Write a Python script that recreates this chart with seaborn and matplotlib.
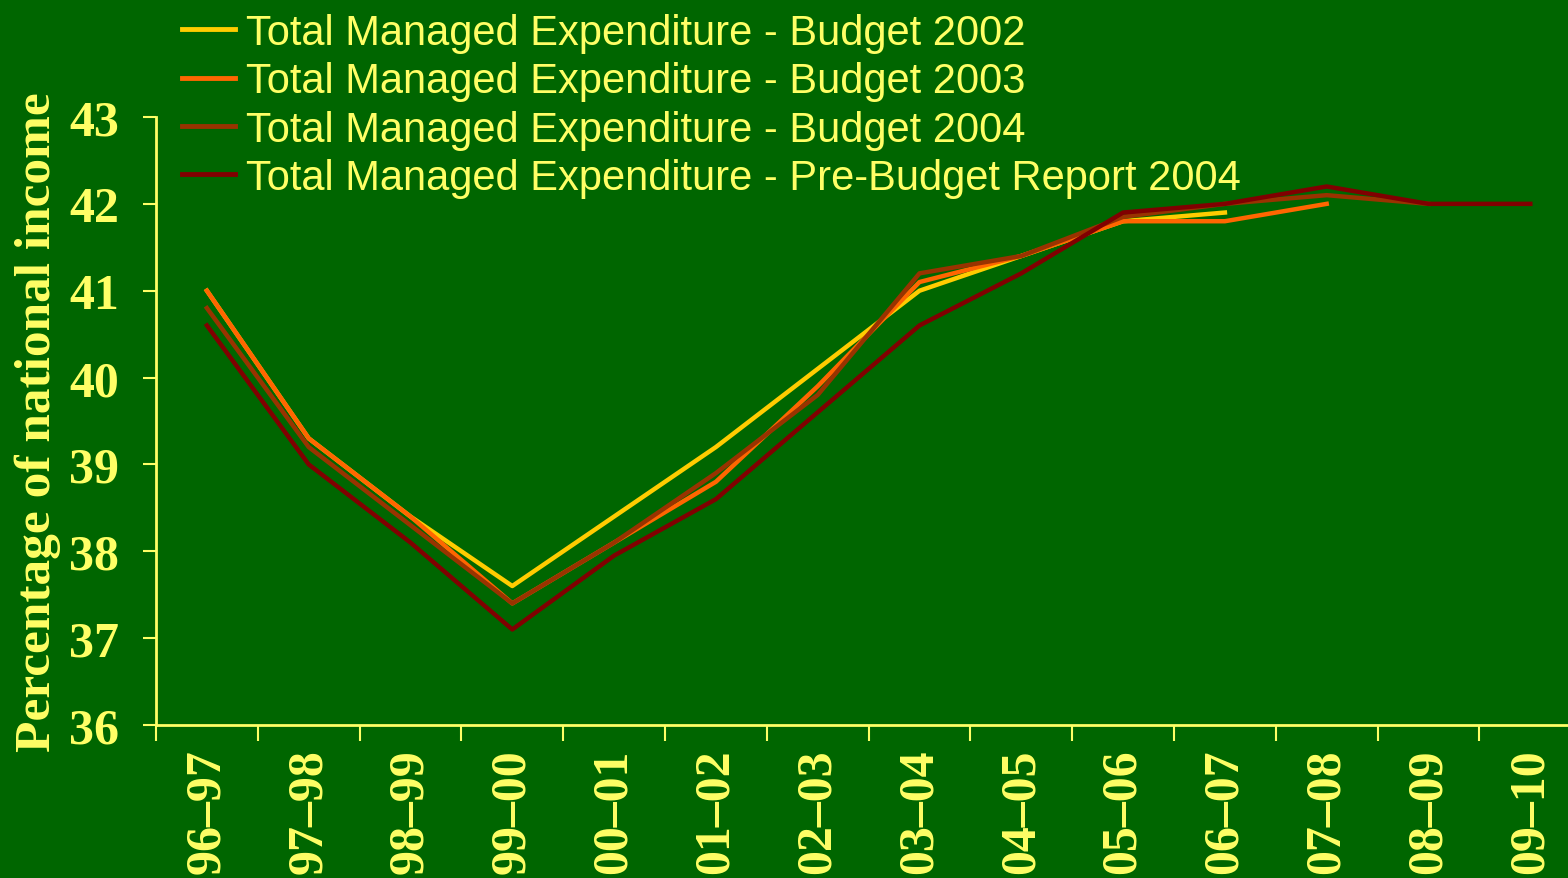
import matplotlib
matplotlib.use("Agg")
import matplotlib.pyplot as plt
import seaborn as sns
import numpy as np

# Data
years = ["96\u201397", "97\u201398", "98\u201399", "99\u201300", "00\u201301", "01\u201302", "02\u201303",
         "03\u201304", "04\u201305", "05\u201306", "06\u201307", "07\u201308", "08\u201309", "09\u201310"]
budget_2002 = [41.0, 39.3, 38.4, 37.6, 38.4, 39.2, 40.1, 41.0, 41.4, 41.8, 41.9]
budget_2003 = [41.0, 39.3, 38.4, 37.4, 38.1, 38.8, 39.9, 41.1, 41.4, 41.8, 41.8, 42.0]
budget_2004 = [40.8, 39.2, 38.3, 37.4, 38.1, 38.9, 39.8, 41.2, 41.4, 41.85, 42.0, 42.1, 42.0]
pbr_2004 = [40.6, 39.0, 38.1, 37.1, 37.95, 38.6, 39.6, 40.6, 41.2, 41.9, 42.0, 42.2, 42.0, 42.0]
series_names = ["Total Managed Expenditure - Budget 2002",
                "Total Managed Expenditure - Budget 2003",
                "Total Managed Expenditure - Budget 2004",
                "Total Managed Expenditure - Pre-Budget Report 2004"]
series_values = [budget_2002, budget_2003, budget_2004, pbr_2004]
colors = ["#FFCC00", "#FF6600", "#993300", "#800000"]

bg = "#006600"
fg = "#FFFF66"

W, H = 1568, 879
fig = plt.figure(figsize=(W / 100, H / 100), dpi=100, facecolor=bg)
cat_w = 101.8
ax = fig.add_axes([156 / W, (H - 726) / H, 14 * cat_w / W, 608 / H])
ax.set_facecolor(bg)

for name, vals, c in zip(series_names, series_values, colors):
    sns.lineplot(x=years[:len(vals)], y=vals, color=c, lw=3.2, label=name,
                 sort=False, ax=ax)

ax.set_xlim(-0.5, 13.5)
ax.set_ylim(36, 43)

# ticks
ax.set_xticks(range(len(years)))
ax.set_xticklabels(years, rotation=90, fontfamily="Liberation Serif",
                   fontweight="bold", fontsize=36, color=fg)
ax.set_xticks(np.arange(-0.5, 14, 1), minor=True)
ax.tick_params(axis="x", which="major", length=0, pad=17)
ax.tick_params(axis="x", which="minor", length=11.5, width=1.5, color=fg)
ax.set_yticks(range(36, 44))
ax.set_yticklabels([str(v) for v in range(36, 44)], fontfamily="Liberation Serif",
                   fontweight="bold", fontsize=36, color=fg)
ax.tick_params(axis="y", length=9.5, width=1.5, color=fg, pad=17)

for s in ["top", "right"]:
    ax.spines[s].set_visible(False)
for s in ["left", "bottom"]:
    ax.spines[s].set_color(fg)
    ax.spines[s].set_linewidth(2)

ax.set_xlabel("")
ax.set_ylabel("Percentage of national income", fontfamily="Liberation Serif",
              fontweight="bold", fontsize=37, color=fg, labelpad=6)

leg = ax.legend(loc="upper left", bbox_to_anchor=(182 / W, 1 - 14 / H),
                bbox_transform=fig.transFigure, frameon=False,
                prop={"family": "Liberation Sans", "size": 30},
                handlelength=1.28, handletextpad=0.25, labelspacing=0.2,
                borderpad=0, borderaxespad=0)
for t in leg.get_texts():
    t.set_color(fg)
for h in leg.get_lines():
    h.set_linewidth(3.5)

fig.savefig("out.png", dpi=100, facecolor=bg)
